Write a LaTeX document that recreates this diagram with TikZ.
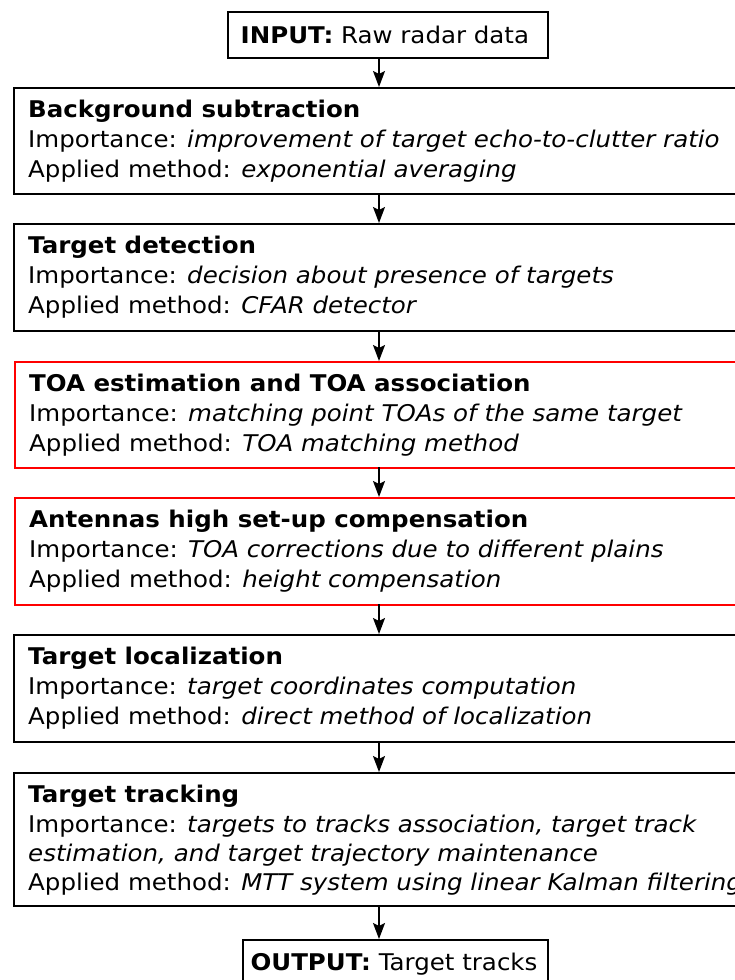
\documentclass[tikz,border=0pt]{standalone}
\usepackage{fontspec}
\setmainfont{DejaVu Sans}[FakeStretch=1.065]
\usetikzlibrary{arrows.meta}
\tikzset{
  stage/.style={draw=black, line width=2.4pt, rectangle, inner sep=0pt, anchor=north west},
  redstage/.style={stage, draw=red},
  io/.style={draw=black, line width=1.8pt, rectangle, inner sep=0pt, anchor=north west},
  txt/.style={anchor=base west, inner sep=0pt, font=\fontsize{23}{30}\selectfont},
  ctxt/.style={anchor=center, inner sep=0pt, font=\fontsize{23}{30}\selectfont},
  flow/.style={line width=1.5pt, -{Stealth[length=16pt,width=12pt,inset=3pt]}}
}
\begin{document}
\begin{tikzpicture}[x=1pt,y=-1pt]
\useasboundingbox (0,0) rectangle (735,980);
\clip (0,0) rectangle (735,980);
% boxes
\node[io, minimum width=320pt, minimum height=46pt] (in) at (227,11) {};
\node[stage, minimum width=735pt, minimum height=106pt] (b1) at (13,87) {};
\node[stage, minimum width=735pt, minimum height=107pt] (b2) at (13,223) {};
\node[redstage, minimum width=735pt, minimum height=106pt] (b3) at (14,361) {};
\node[redstage, minimum width=735pt, minimum height=107pt] (b4) at (14,497) {};
\node[stage, minimum width=735pt, minimum height=107pt] (b5) at (13,634) {};
\node[stage, minimum width=735pt, minimum height=133pt] (b6) at (13,772) {};
\node[io, minimum width=305pt, minimum height=60pt] (out) at (242,939) {};
% texts
\node[ctxt] (tin) at ([xshift=-3pt]in.center) {\textbf{INPUT:} Raw radar data};
\node[txt] (t1a) at (28,117) {\textbf{Background subtraction}};
\node[txt] (t1b) at (28,147) {Importance: \textit{improvement of target echo-to-clutter ratio}};
\node[txt] (t1c) at (28,177) {Applied method: \textit{exponential averaging}};
\node[txt] (t2a) at (28,253) {\textbf{Target detection}};
\node[txt] (t2b) at (28,283) {Importance: \textit{decision about presence of targets}};
\node[txt] (t2c) at (28,313) {Applied method: \textit{CFAR detector}};
\node[txt] (t3a) at (29,391) {\textbf{TOA estimation and TOA association}};
\node[txt] (t3b) at (29,421) {Importance: \textit{matching point TOAs of the same target}};
\node[txt] (t3c) at (29,451) {Applied method: \textit{TOA matching method}};
\node[txt] (t4a) at (29,527) {\textbf{Antennas high set-up compensation}};
\node[txt] (t4b) at (29,557) {Importance: \textit{TOA corrections due to different plains}};
\node[txt] (t4c) at (29,587) {Applied method: \textit{height compensation}};
\node[txt] (t5a) at (28,664) {\textbf{Target localization}};
\node[txt] (t5b) at (28,694) {Importance: \textit{target coordinates computation}};
\node[txt] (t5c) at (28,724) {Applied method: \textit{direct method of localization}};
\node[txt] (t6a) at (28,802) {\textbf{Target tracking}};
\node[txt] (t6b) at (28,832) {Importance: \textit{targets to tracks association, target track}};
\node[txt] (t6c) at (28,861) {\textit{estimation, and target trajectory maintenance}};
\node[txt] (t6d) at (28,890) {Applied method: \textit{MTT system using linear Kalman filtering}};
\node[ctxt, anchor=base] (tout) at (394,970) {\textbf{OUTPUT:} Target tracks};
% arrows
\coordinate (a0) at (379,57);
\coordinate (a1) at (379,87);
\coordinate (a2) at (379,193);
\coordinate (a3) at (379,223);
\coordinate (a4) at (379,330);
\coordinate (a5) at (379,361);
\coordinate (a6) at (379,467);
\coordinate (a7) at (379,497);
\coordinate (a8) at (379,604);
\coordinate (a9) at (379,634);
\coordinate (a10) at (379,741);
\coordinate (a11) at (379,772);
\coordinate (a12) at (379,905);
\coordinate (a13) at (379,939);
\draw[flow] (a0) -- (a1);
\draw[flow] (a2) -- (a3);
\draw[flow] (a4) -- (a5);
\draw[flow] (a6) -- (a7);
\draw[flow] (a8) -- (a9);
\draw[flow] (a10) -- (a11);
\draw[flow] (a12) -- (a13);
\end{tikzpicture}
\end{document}
